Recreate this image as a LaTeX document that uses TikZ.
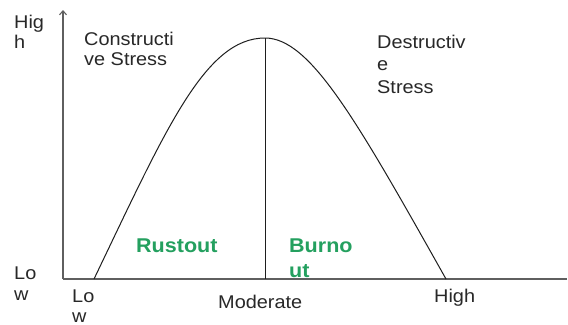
\documentclass[tikz,border=0pt]{standalone}
\usepackage{fontspec}
\setmainfont[FakeStretch=1.08]{Liberation Sans}
\usetikzlibrary{arrows.meta}
\definecolor{txt}{RGB}{40,40,40}
\definecolor{axisc}{RGB}{95,95,95}
\definecolor{curvec}{RGB}{30,30,30}
\definecolor{grn}{RGB}{36,160,95}
\begin{document}
\begin{tikzpicture}[x=1bp,y=-1bp,
  lab/.style={anchor=base west,inner sep=0pt,text=txt,align=left,
    font=\fontsize{18.5}{20}\selectfont},
  glab/.style={anchor=base west,inner sep=0pt,text=grn,align=left,
    font=\fontsize{20}{25}\selectfont\bfseries},
  axisline/.style={draw=axisc,line width=1.1bp},
  curveline/.style={draw=curvec,line width=1bp}]
\useasboundingbox (0,0) rectangle (568,324);
\fill[white] (0,0) rectangle (568,324);
% axes
\coordinate (origin) at (63,279);
\coordinate (ytop) at (63,10);
\coordinate (xend) at (567,279);
\draw[axisline,-{Straight Barb[length=4bp,width=7bp]}] (origin) -- (ytop);
\draw[axisline] (origin) -- (xend);
% curve
\coordinate (cstart) at (94,279);
\coordinate (peak) at (265,38);
\coordinate (cend) at (446,279);
\coordinate (pbase) at (265,279);
\draw[curveline] (cstart) .. controls (166,129) and (205,38) .. (peak)
  .. controls (310,38) and (356,119) .. (cend);
\draw[curveline] (peak) -- (pbase);
% labels (base anchor = baseline of last line)
\node[lab] (hig) at (14,48) {Hig\\h};
\node[lab] (constr) at (84,65) {Constructi\\ve Stress};
\node[lab,font=\fontsize{18.5}{22.5}\selectfont] (destr) at (377,93) {Destructiv\\e\\Stress};
\node[glab] (rust) at (136,252) {Rustout};
\node[glab] (burn) at (289,277) {Burno\\ut};
\node[lab,font=\fontsize{18.5}{21}\selectfont] (lowy) at (14,300) {Lo\\w};
\node[lab,font=\fontsize{18.5}{20}\selectfont] (lowx) at (72,322) {Lo\\w};
\node[lab] (moderate) at (218,308) {Moderate};
\node[lab] (high) at (434,302) {High};
\end{tikzpicture}
\end{document}
